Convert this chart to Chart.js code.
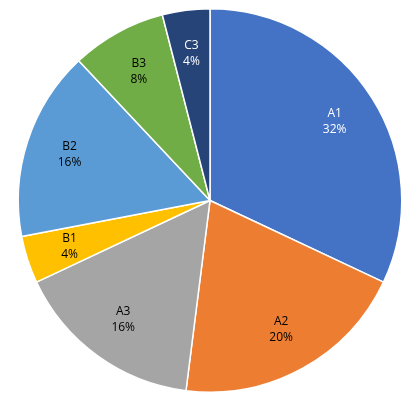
<!DOCTYPE html>
<html lang="en">
<head>
    <meta charset="UTF-8">
    <title>Pie chart</title>
    <script src="https://cdn.jsdelivr.net/npm/chart.js"></script>
    <style>
        html, body { margin: 0; padding: 0; background: #fff; }
        #wrap { width: 420px; height: 400px; }
    </style>
</head>
<body>
    <div id="wrap"><canvas id="pieChart" width="420" height="400"></canvas></div>

    <script>
        const categories = ['A1', 'A2', 'A3', 'B1', 'B2', 'B3', 'C3'];
        const shares = [32, 20, 16, 4, 16, 8, 4];
        const sliceColors = ['#4472C4', '#ED7D31', '#A5A5A5', '#FFC000', '#5B9BD5', '#70AD47', '#264478'];
        const labelColors = ['#ffffff', '#000000', '#000000', '#000000', '#000000', '#000000', '#ffffff'];

        // draws "name / pct" inside each slice
        const sliceLabels = {
            id: 'sliceLabels',
            afterDatasetsDraw(chart) {
                const ctx = chart.ctx;
                const meta = chart.getDatasetMeta(0);
                const total = shares.reduce((a, b) => a + b, 0);
                ctx.save();
                ctx.font = '12px "Open Sans", "Liberation Sans", sans-serif';
                ctx.textAlign = 'center';
                ctx.textBaseline = 'middle';
                meta.data.forEach(function(arc, i) {
                    const mid = (arc.startAngle + arc.endAngle) / 2;
                    const r = arc.outerRadius * 0.77;
                    const x = arc.x + Math.cos(mid) * r;
                    const y = arc.y + Math.sin(mid) * r;
                    ctx.fillStyle = labelColors[i];
                    ctx.fillText(categories[i], x, y - 8);
                    ctx.fillText(Math.round(shares[i] / total * 100) + '%', x, y + 8);
                });
                ctx.restore();
            }
        };

        new Chart(document.getElementById('pieChart'), {
            type: 'pie',
            data: {
                labels: categories,
                datasets: [{
                    data: shares,
                    backgroundColor: sliceColors,
                    borderColor: '#ffffff',
                    borderWidth: 1.5
                }]
            },
            options: {
                responsive: false,
                animation: false,
                layout: { padding: { top: 8, bottom: 7 } },
                plugins: {
                    legend: { display: false },
                    tooltip: { enabled: false }
                }
            },
            plugins: [sliceLabels]
        });
    </script>
</body>
</html>
